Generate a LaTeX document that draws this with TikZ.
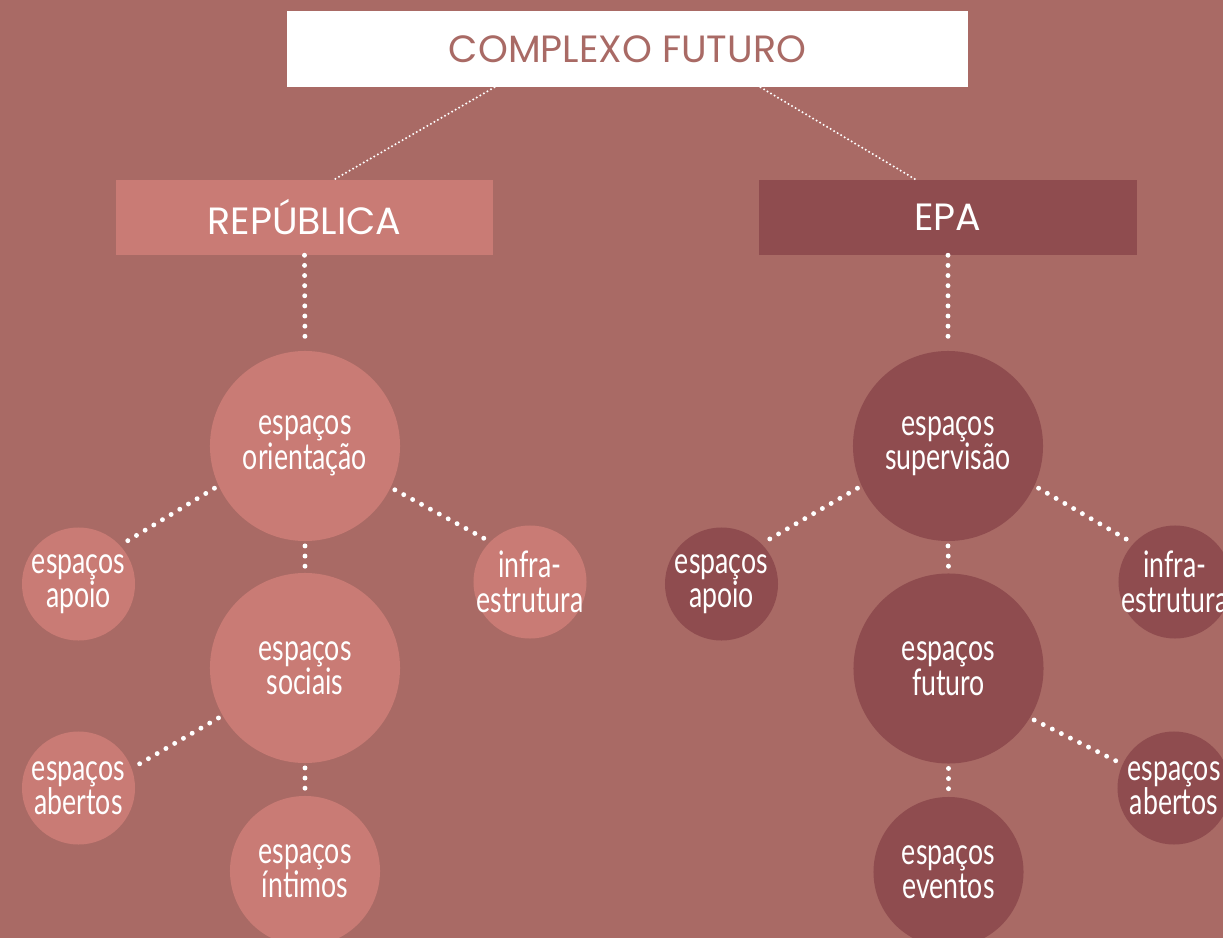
\documentclass[tikz,border=0pt]{standalone}
\usepackage{fontspec}
\usetikzlibrary{calc}
\newfontfamily\boxfont{Poppins}
\newfontfamily\bubfont[FakeStretch=0.73]{Lato}
\definecolor{bgrose}{RGB}{169,106,101}
\definecolor{lightrose}{RGB}{201,123,117}
\definecolor{darkrose}{RGB}{143,76,79}

\begin{document}
\begin{tikzpicture}[x=0.025cm, y=-0.025cm,
  box/.style={rectangle, minimum width=9.425cm, minimum height=1.875cm, inner sep=0pt, text=white, font=\boxfont\fontsize{27}{30}\selectfont},
  bubble/.style={circle, inner sep=-40pt, outer sep=3.5pt, text=white, align=center, font=\bubfont\fontsize{26}{24.5}\selectfont},
  big/.style={bubble, minimum size=4.75cm},
  mid/.style={bubble, minimum size=3.75cm},
  small/.style={bubble, minimum size=2.825cm},
  dots/.style={white, line width=3.5pt, line cap=round, dash pattern=on 0pt off 7.2pt},
  fine/.style={white, line width=1.6pt, line cap=round, dash pattern=on 0pt off 2.9pt}]
\path[use as bounding box, fill=bgrose] (0,0) rectangle (1223,938);
\clip (0,0) rectangle (1223,938);

\node[box, fill=white, text=bgrose, minimum width=17.025cm, minimum height=1.9cm] (top) at (627.5,49) {COMPLEXO FUTURO};
\node[box, fill=lightrose] (rep) at (304.5,217.5) {REPÚBLICA};
\node[box, fill=darkrose] (epa) at (948,217.5) {EPA};

% republica
\node[big, fill=lightrose] (ro) at (305,446) {espaços\\orientação};
\node[small, fill=lightrose] (ra) at (78.5,584) {espaços\\apoio};
\node[small, fill=lightrose] (ri) at (530,582) {infra-\\estrutura};
\node[big, fill=lightrose] (rs) at (305,668) {espaços\\sociais};
\node[small, fill=lightrose] (rb) at (78.5,788) {espaços\\abertos};
\node[mid, fill=lightrose] (rt) at (305,871) {espaços\\íntimos};

% epa
\node[big, fill=darkrose] (es) at (948,446) {espaços\\supervisão};
\node[small, fill=darkrose] (ea) at (721.5,584) {espaços\\apoio};
\node[small, fill=darkrose] (ei) at (1175,582) {infra-\\estrutura};
\node[big, fill=darkrose] (ef) at (948.5,668.5) {espaços\\futuro};
\node[small, fill=darkrose] (eb) at (1174,788) {espaços\\abertos};
\node[mid, fill=darkrose] (ee) at (948.5,872) {espaços\\eventos};

\draw[fine] ($(top.south)+(-133,0)$) -- ($(rep.north)+(29.5,0)$);
\draw[fine] ($(top.south)+(133,0)$) -- ($(epa.north)+(-32,0)$);

\draw[dots] (rep.south) -- (ro.north);
\draw[dots] (ro.205) -- (ra.42);
\draw[dots] (ro.334) -- (ri.136);
\draw[dots] (ro.south) -- (rs.north);
\draw[dots] (rs.210) -- (rb.21);
\draw[dots] (rs.south) -- (rt.north);

\draw[dots] (epa.south) -- (es.north);
\draw[dots] (es.205) -- (ea.44);
\draw[dots] (es.335) -- (ei.138);
\draw[dots] (es.south) -- (ef.north);
\draw[dots] (ef.329) -- (eb.155);
\draw[dots] (ef.south) -- (ee.north);
\end{tikzpicture}
\end{document}
